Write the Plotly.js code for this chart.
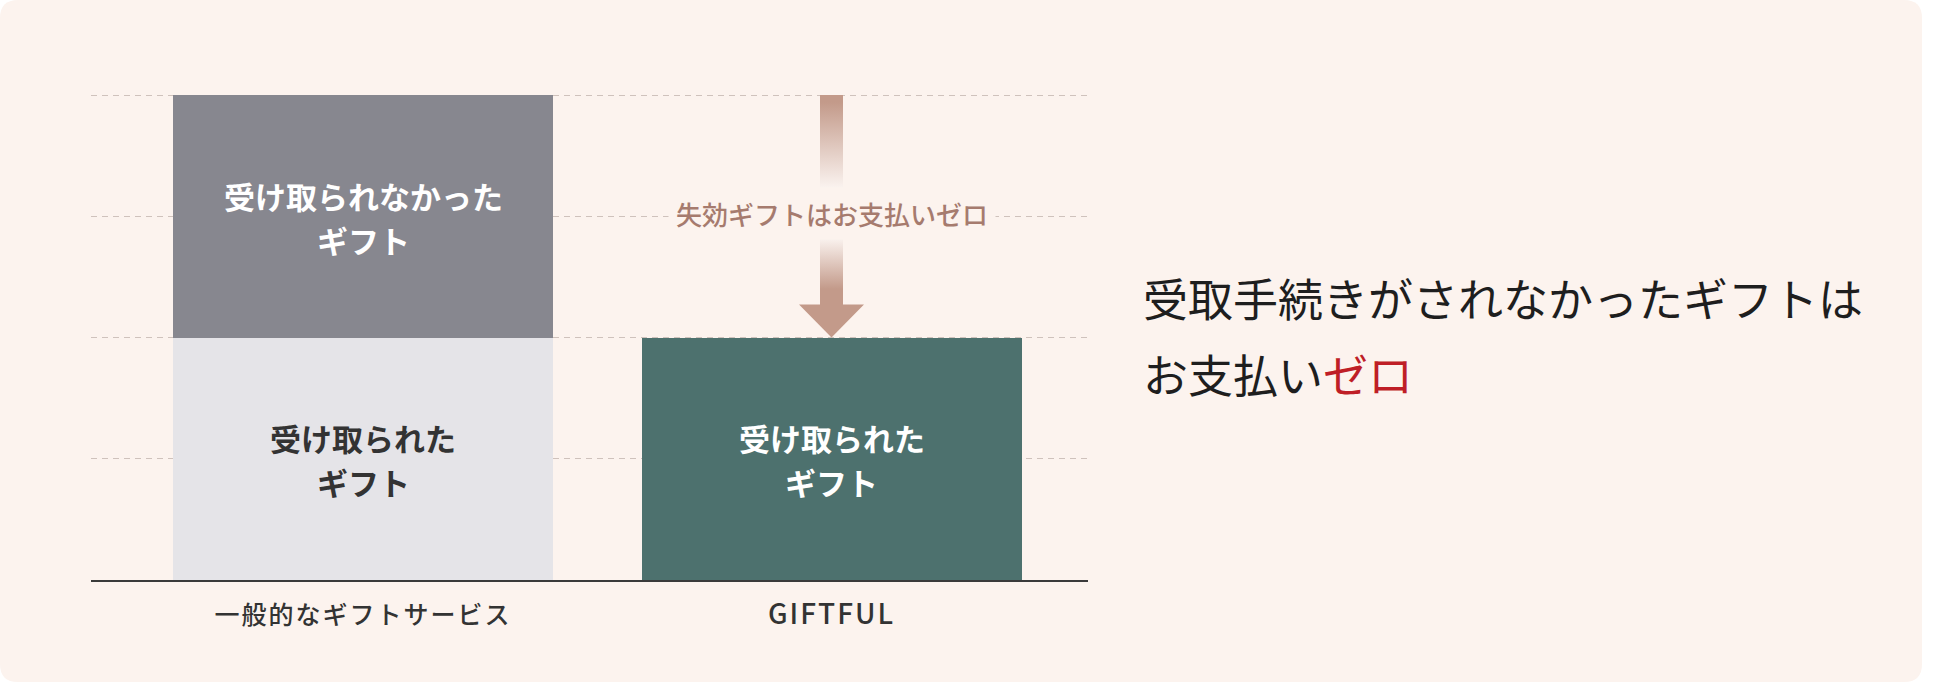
<!DOCTYPE html>
<html>
<head>
<meta charset="utf-8">
<script src="https://cdn.plot.ly/plotly-3.0.1.min.js"></script>
<style>
  html, body { margin: 0; padding: 0; background: #ffffff; }
  #chart { width: 1950px; height: 687px; }
  .xtick text { letter-spacing: 2px; }
</style>
</head>
<body>
<div id="chart"></div>
<script>
// ---------- data ----------
const categories = ['一般的なギフトサービス', 'GIFTFUL'];
const receivedValues = [2, 2];
const unreceivedValues = [2, 0];
const receivedLabel = ['受け取られた', 'ギフト'];
const unreceivedLabel = ['受け取られなかった', 'ギフト'];
const arrowLabel = '失効ギフトはお支払いゼロ';
const headlineLine1 = '受取手続きがされなかったギフトは';
const headlineLine2a = 'お支払い';
const headlineLine2b = 'ゼロ';

// ---------- style / geometry ----------
const W = 1950, H = 687;
const M = { l: 91, r: 862, t: 92, b: 107 };
const plotW = W - M.l - M.r;          // 997
const plotH = H - M.t - M.b;          // 488
const yMax = 4.025;
const pxPerY = plotH / yMax;
const xRange = [-0.5806, 1.5475];
const pxPerX = plotW / (xRange[1] - xRange[0]);
const barWidth = 380 / pxPerX;

const panelColor = '#fcf3ee';
const receivedColors = ['#e5e4e8', '#4d716e'];
const unreceivedColors = ['#87878f', '#87878f'];
const receivedTextColors = ['#333333', '#ffffff'];
const unreceivedTextColors = ['#ffffff', '#ffffff'];
const arrowColor = '#c39a8a';
const arrowFade = '#fdf7f4';
const labelColor = '#a67b6e';
const fontJP = 'Noto Sans CJK JP, Noto Sans, sans-serif';

const xs = categories.map((c, i) => i);
const totals = xs.map(i => receivedValues[i] + unreceivedValues[i]);

// ---------- traces ----------
const traces = [
  {
    type: 'bar', x: xs, y: receivedValues, width: barWidth,
    marker: { color: receivedColors, line: { width: 0 } },
    hoverinfo: 'skip', showlegend: false
  },
  {
    type: 'bar', x: xs, y: unreceivedValues, width: barWidth,
    marker: { color: unreceivedColors, line: { width: 0 } },
    hoverinfo: 'skip', showlegend: false
  }
];

// arrow from the top of the first stack down to the top of the second stack
const ax0 = 1;
const topY = totals[0], tipY = totals[1];
const sw = 11.5 / pxPerX, hw = 32.5 / pxPerX, hh = 33 / pxPerY;
traces.push({
  type: 'scatter', mode: 'lines',
  x: [ax0 - sw, ax0 + sw, ax0 + sw, ax0 + hw, ax0, ax0 - hw, ax0 - sw, ax0 - sw],
  y: [topY, topY, tipY + hh, tipY + hh, tipY, tipY + hh, tipY + hh, topY],
  fill: 'toself',
  fillgradient: {
    type: 'vertical', start: tipY, stop: topY,
    colorscale: [[0, arrowColor], [0.2, arrowColor], [0.42, arrowFade],
                 [0.6, arrowFade], [0.97, arrowColor], [1, arrowColor]]
  },
  line: { width: 0, color: 'rgba(0,0,0,0)' },
  hoverinfo: 'skip', showlegend: false
});

// ---------- annotations ----------
const annotations = [];
function segLabel(i, base, val, lines, color) {
  if (val <= 0) return;
  const yc = base + val / 2;
  const shifts = [21, -23];
  lines.forEach((t, k) => {
    annotations.push({
      x: i, y: yc, xref: 'x', yref: 'y', text: t, showarrow: false,
      xanchor: 'center', yanchor: 'middle', yshift: shifts[k],
      font: { family: fontJP, size: 31, color: color, weight: 600 }
    });
  });
}
xs.forEach(i => {
  segLabel(i, 0, receivedValues[i], receivedLabel, receivedTextColors[i]);
  segLabel(i, receivedValues[i], unreceivedValues[i], unreceivedLabel, unreceivedTextColors[i]);
});

annotations.push({
  x: ax0, y: (topY + tipY) / 2, xref: 'x', yref: 'y', text: arrowLabel,
  showarrow: false, xanchor: 'center', yanchor: 'middle', yshift: 3,
  bgcolor: panelColor, borderpad: 7,
  font: { family: fontJP, size: 26, color: labelColor, weight: 500 }
});

const hx = (1141 - M.l) / plotW;
annotations.push({
  x: hx, y: (580 - 297) / plotH, xref: 'paper', yref: 'paper',
  text: headlineLine1, showarrow: false, xanchor: 'left', yanchor: 'middle',
  font: { family: fontJP, size: 45, color: '#1e1e1e', weight: 400 }
});
annotations.push({
  x: hx, y: (580 - 373) / plotH, xref: 'paper', yref: 'paper',
  text: headlineLine2a + '<span style="color:#bf1e26">' + headlineLine2b + '</span>',
  showarrow: false, xanchor: 'left', yanchor: 'middle',
  font: { family: fontJP, size: 45, color: '#1e1e1e', weight: 400 }
});

// ---------- panel background (rounded rectangle) ----------
function px2x(px) { return (px - M.l) / plotW; }
function py2y(py) { return (M.t + plotH - py) / plotH; }
const P = { x0: 0, y0: 0, x1: 1922, y1: 682, r: 18 };
const panelPath = [
  'M', px2x(P.x0 + P.r), py2y(P.y0),
  'L', px2x(P.x1 - P.r), py2y(P.y0),
  'Q', px2x(P.x1), py2y(P.y0), px2x(P.x1), py2y(P.y0 + P.r),
  'L', px2x(P.x1), py2y(P.y1 - P.r),
  'Q', px2x(P.x1), py2y(P.y1), px2x(P.x1 - P.r), py2y(P.y1),
  'L', px2x(P.x0 + P.r), py2y(P.y1),
  'Q', px2x(P.x0), py2y(P.y1), px2x(P.x0), py2y(P.y1 - P.r),
  'L', px2x(P.x0), py2y(P.y0 + P.r),
  'Q', px2x(P.x0), py2y(P.y0), px2x(P.x0 + P.r), py2y(P.y0),
  'Z'
].join(' ');

const tickText = categories.map(c => /^[A-Z]+$/.test(c)
  ? '<span style="font-size:28px">' + c + '</span>' : c);

const layout = {
  width: W, height: H,
  margin: M,
  paper_bgcolor: '#ffffff',
  plot_bgcolor: 'rgba(0,0,0,0)',
  barmode: 'stack',
  bargap: 0,
  showlegend: false,
  font: { family: fontJP },
  xaxis: {
    range: xRange, tickvals: xs, ticktext: tickText,
    showgrid: false, zeroline: false,
    showline: true, linecolor: '#3a3a3a', linewidth: 1.5,
    ticks: '', ticklabelstandoff: 12,
    tickfont: { family: fontJP, size: 25, color: '#333333', weight: 500 },
    fixedrange: true
  },
  yaxis: {
    range: [0, yMax], tickvals: [1, 2, 3, 4],
    showticklabels: false, ticks: '',
    showgrid: true, gridcolor: '#cfc2bc', gridwidth: 1, griddash: '6px,5px',
    zeroline: false, showline: false, fixedrange: true
  },
  shapes: [{
    type: 'path', xref: 'paper', yref: 'paper', path: panelPath,
    fillcolor: panelColor, line: { width: 0 }, layer: 'below'
  }],
  annotations: annotations
};

Plotly.newPlot('chart', traces, layout, { staticPlot: true, displayModeBar: false });
</script>
</body>
</html>
